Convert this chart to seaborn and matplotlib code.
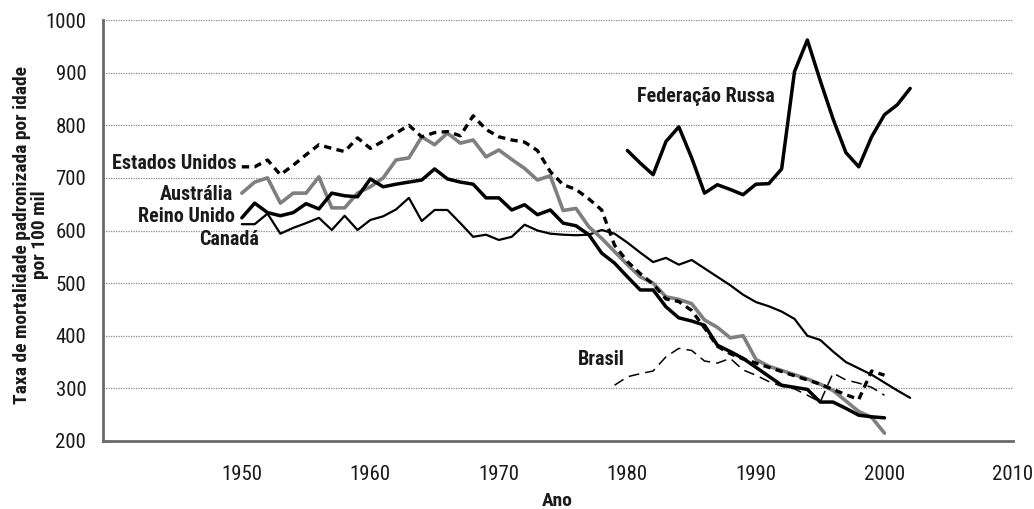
import matplotlib
matplotlib.use("Agg")
import matplotlib.pyplot as plt
from matplotlib import font_manager
import seaborn as sns
import pandas as pd

# ---------------- data ----------------
years_us = list(range(1950, 2001))
us = [721, 721, 734, 706, 724, 744, 763, 756, 750, 776,
      756, 770, 785, 800, 778, 786, 788, 780, 818, 792,
      778, 772, 768, 752, 712, 687, 678, 660, 639, 572,
      541, 518, 498, 470, 465, 448, 415, 380, 366, 356,
      348, 340, 332, 324, 316, 308, 298, 288, 279, 333,
      325]

years_aus = list(range(1950, 2001))
aus = [671, 692, 700, 652, 671, 671, 702, 643, 643, 671,
       683, 700, 734, 738, 778, 763, 785, 766, 772, 740,
       753, 735, 718, 696, 704, 638, 642, 607, 585, 560,
       535, 512, 500, 474, 469, 461, 430, 416, 396, 400,
       355, 342, 334, 326, 318, 308, 296, 276, 256, 245,
       215]

years_uk = list(range(1950, 2001))
uk = [624, 652, 634, 628, 634, 651, 641, 671, 666, 664,
      698, 683, 688, 692, 696, 717, 698, 692, 688, 662,
      662, 639, 649, 630, 639, 614, 609, 592, 557, 538,
      512, 487, 487, 455, 434, 428, 420, 382, 370, 357,
      340, 323, 306, 302, 298, 274, 274, 262, 249, 246,
      244]

years_can = list(range(1950, 2003))
can = [612, 612, 632, 594, 605, 614, 624, 601, 628, 601,
       620, 627, 640, 662, 618, 639, 639, 614, 588, 592,
       582, 588, 611, 600, 594, 592, 591, 592, 601, 594,
       577, 558, 540, 548, 535, 544, 528, 512, 496, 478,
       464, 456, 446, 432, 400, 392, 370, 350, 338, 326,
       311, 296, 282]

years_rus = list(range(1980, 2003))
rus = [752, 728, 706, 769, 797, 738, 671, 687, 678, 668,
       688, 689, 717, 902, 962, 885, 812, 748, 721, 778,
       820, 839, 870]

years_bra = list(range(1979, 2001))
bra = [306, 322, 328, 333, 360, 376, 372, 352, 348, 357,
       335, 325, 313, 304, 299, 287, 274, 329, 316, 310,
       302, 287]

x_ticks = [1940, 1950, 1960, 1970, 1980, 1990, 2000, 2010]
x_tick_labels = ["", "1950", "1960", "1970", "1980", "1990", "2000", "2010"]
y_ticks = [200, 300, 400, 500, 600, 700, 800, 900, 1000]

# ---------------- fonts ----------------
sns.set_style("white")
available = {f.name for f in font_manager.fontManager.ttflist}
family = None
for cand in ["Liberation Sans Narrow", "Roboto Condensed", "Open Sans Condensed", "Roboto", "DejaVu Sans"]:
    if cand in available:
        family = cand
        break
plt.rcParams["font.family"] = [family, "DejaVu Sans"]

# ---------------- figure ----------------
fig = plt.figure(figsize=(10.34, 5.09), dpi=100)
ax = fig.add_axes([103 / 1034, 1 - 441 / 509, 910 / 1034, 421 / 509])

for yv in y_ticks[1:]:
    ax.axhline(yv, color="#8a8a8a", lw=0.9, ls=(0, (1, 1)), zorder=0)

def draw(xs, ys, **kw):
    df = pd.DataFrame({"Ano": xs, "Valor": ys})
    sns.lineplot(data=df, x="Ano", y="Valor", ax=ax, **kw)

draw(years_can, can, color="black", lw=1.6, zorder=3)
draw(years_bra, bra, color="black", lw=1.1, linestyle=(0, (7, 4)), zorder=3)
draw(years_aus, aus, color="#7f7f7f", lw=2.6, zorder=4)
draw(years_uk, uk, color="black", lw=2.5, zorder=5)
draw(years_us, us, color="black", lw=2.4, linestyle=(0, (2.2, 1.6)), zorder=6)
draw(years_rus, rus, color="black", lw=2.5, zorder=5)

ax.set_xlim(1939.2, 2010)
ax.set_ylim(200, 1000)
ax.set_xticks(x_ticks)
ax.set_xticklabels(x_tick_labels)
ax.set_yticks(y_ticks)

for s in ["top", "right"]:
    ax.spines[s].set_visible(False)
for s in ["left", "bottom"]:
    ax.spines[s].set_color("#6a6a6a")
    ax.spines[s].set_linewidth(2.0)
ax.tick_params(axis="both", direction="out", length=8, width=1.3, color="#555555",
               labelsize=15, labelcolor="#1a1a1a", pad=4)
ax.tick_params(axis="x", pad=9)

ax.set_xlabel("Ano", fontsize=14, fontweight="bold", color="#1a1a1a")
ax.set_ylabel("Taxa de mortalidade padronizada por idade\npor 100 mil",
              fontsize=14, fontweight="bold", color="#1a1a1a", linespacing=1.0)
ax.xaxis.set_label_coords((557 - 103) / 910, (441 - 492) / 421)
ax.yaxis.set_label_coords((49 - 103) / 910, (441 - 235) / 421)

lab = dict(fontsize=14.5, fontweight="bold", color="#1a1a1a", va="center")
ax.text(1949.63, 728, "Estados Unidos", ha="right", **lab)
ax.text(1949.3, 668, "Austrália", ha="right", **lab)
ax.text(1949.5, 626, "Reino Unido", ha="right", **lab)
ax.text(1949.0, 582, "Canadá", ha="center", **lab)
ax.text(1986.1, 854, "Federação Russa", ha="center", **lab)
ax.text(1977.95, 354, "Brasil", ha="center", **lab)

fig.savefig("out.png", dpi=100)
